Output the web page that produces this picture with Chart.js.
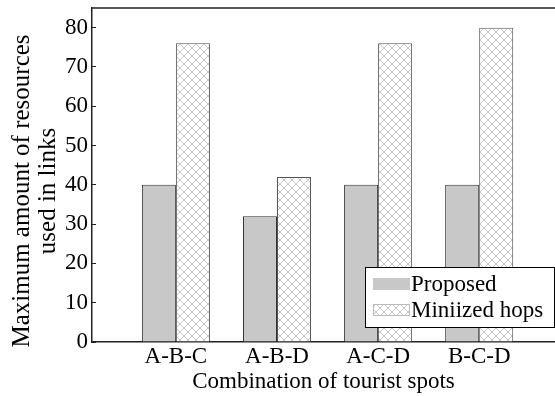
<!DOCTYPE html>
<html>
<head>
<meta charset="utf-8">
<script src="https://cdn.jsdelivr.net/npm/chart.js@4.4.0/dist/chart.umd.min.js"></script>
<style>
  html, body { margin: 0; padding: 0; background: #fff; }
  #wrap { width: 555px; height: 396px; position: relative; }
</style>
</head>
<body>
<div id="wrap"><canvas id="resChart" width="555" height="396"></canvas></div>
<script>
// dữ liệu
const categories = ['A-B-C', 'A-B-D', 'A-C-D', 'B-C-D'];
const proposedValues = [40, 32, 40, 40];
const minHopsValues = [76, 42, 76, 80];
const yTicks = [0, 10, 20, 30, 40, 50, 60, 70, 80];
const seriesNames = ['Proposed', 'Miniized hops'];
const yTitleLines = ['Maximum amount of resources', 'used in links'];

const serif = "'Liberation Serif', 'Times New Roman', serif";

// hoa văn gạch chéo cho cột "Miniized hops"
function makeHatch() {
    const c = document.createElement('canvas');
    c.width = 8; c.height = 8;
    const g = c.getContext('2d');
    g.fillStyle = '#fff';
    g.fillRect(0, 0, 8, 8);
    g.strokeStyle = '#c6c6c6';
    g.lineWidth = 1;
    g.beginPath();
    g.moveTo(0, 0); g.lineTo(8, 8);
    g.moveTo(8, 0); g.lineTo(0, 8);
    g.stroke();
    return g.createPattern(c, 'repeat');
}
const hatch = makeHatch();

// khung trên, tiêu đề trục y và chú thích vẽ tay
const framePlugin = {
    id: 'framePlugin',
    afterDraw(chart) {
        const ctx = chart.ctx;
        const a = chart.chartArea;
        ctx.save();
        ctx.strokeStyle = '#222';
        ctx.lineWidth = 1.5;
        ctx.beginPath();
        ctx.moveTo(a.left, a.top);
        ctx.lineTo(a.right, a.top);
        ctx.stroke();

        // tiêu đề trục y (2 dòng)
        ctx.save();
        ctx.translate(0, 191);
        ctx.rotate(-Math.PI / 2);
        ctx.fillStyle = '#000';
        ctx.font = '25px ' + serif;
        ctx.textAlign = 'center';
        ctx.textBaseline = 'middle';
        yTitleLines.forEach((t, i) => ctx.fillText(t, 0, 22 + i * 26));
        ctx.restore();

        // legend box
        const bx = 365, by = 267, bw = 189, bh = 60;
        ctx.fillStyle = '#fff';
        ctx.fillRect(bx, by, bw, bh);
        ctx.strokeStyle = '#000';
        ctx.lineWidth = 1;
        ctx.strokeRect(bx + 0.5, by + 0.5, bw, bh);

        const ds = chart.data.datasets;
        ds.forEach((d, i) => {
            const sy = by + 11 + i * 26;
            ctx.fillStyle = d.backgroundColor;
            ctx.fillRect(bx + 8, sy, 37, 12);
            if (i === 1) {
                ctx.strokeStyle = '#bbb';
                ctx.strokeRect(bx + 8.5, sy + 0.5, 36, 11);
            }
            ctx.fillStyle = '#000';
            ctx.font = '23px ' + serif;
            ctx.textBaseline = 'middle';
            ctx.textAlign = 'left';
            ctx.fillText(d.label, bx + 46, sy + 7);
        });
        ctx.restore();
    }
};

const ctx = document.getElementById('resChart').getContext('2d');
const resChart = new Chart(ctx, {
    type: 'bar',
    data: {
        datasets: [
            {
                label: seriesNames[0],
                data: proposedValues.map((v, i) => ({ x: i + 1, y: v })),
                backgroundColor: '#c8c8c8',
                borderColor: '#333',
                borderWidth: 1,
                barPercentage: 1.0,
                categoryPercentage: 0.673
            },
            {
                label: seriesNames[1],
                data: minHopsValues.map((v, i) => ({ x: i + 1, y: v })),
                backgroundColor: hatch,
                borderColor: '#555',
                borderWidth: 1,
                barPercentage: 1.0,
                categoryPercentage: 0.673
            }
        ]
    },
    options: {
        responsive: false,
        animation: false,
        layout: { padding: { left: 0, right: 0, top: 8, bottom: 0 } },
        plugins: {
            legend: { display: false },
            tooltip: { enabled: false }
        },
        scales: {
            x: {
                type: 'linear',
                offset: false,
                min: 0.17,
                max: 4.75,
                grid: { display: false, drawTicks: false },
                border: { color: '#222', width: 1.5 },
                afterBuildTicks: (scale) => {
                    scale.ticks = categories.map((c, i) => ({ value: i + 1 }));
                },
                afterFit: (scale) => { scale.height = 54; scale.paddingLeft = 0; scale.paddingRight = 0; },
                ticks: {
                    color: '#000',
                    font: { family: serif, size: 23 },
                    padding: 1,
                    maxRotation: 0,
                    callback: (value) => categories[Math.round(value) - 1] || ''
                },
                title: {
                    display: true,
                    text: 'Combination of tourist spots',
                    color: '#000',
                    font: { family: serif, size: 23 },
                    padding: { top: 0, bottom: 0 }
                }
            },
            y: {
                min: 0,
                max: 85,
                grid: {
                    display: true,
                    drawOnChartArea: false,
                    drawTicks: true,
                    tickLength: -4,
                    color: '#222'
                },
                border: { color: '#222', width: 1.5 },
                afterBuildTicks: (scale) => {
                    scale.ticks = yTicks.map(v => ({ value: v }));
                },
                afterFit: (scale) => { scale.width = 92; scale.paddingTop = 0; scale.paddingBottom = 0; },
                ticks: {
                    color: '#000',
                    font: { family: serif, size: 23 },
                    padding: 8
                }
            }
        }
    },
    plugins: [framePlugin]
});
</script>
</body>
</html>
